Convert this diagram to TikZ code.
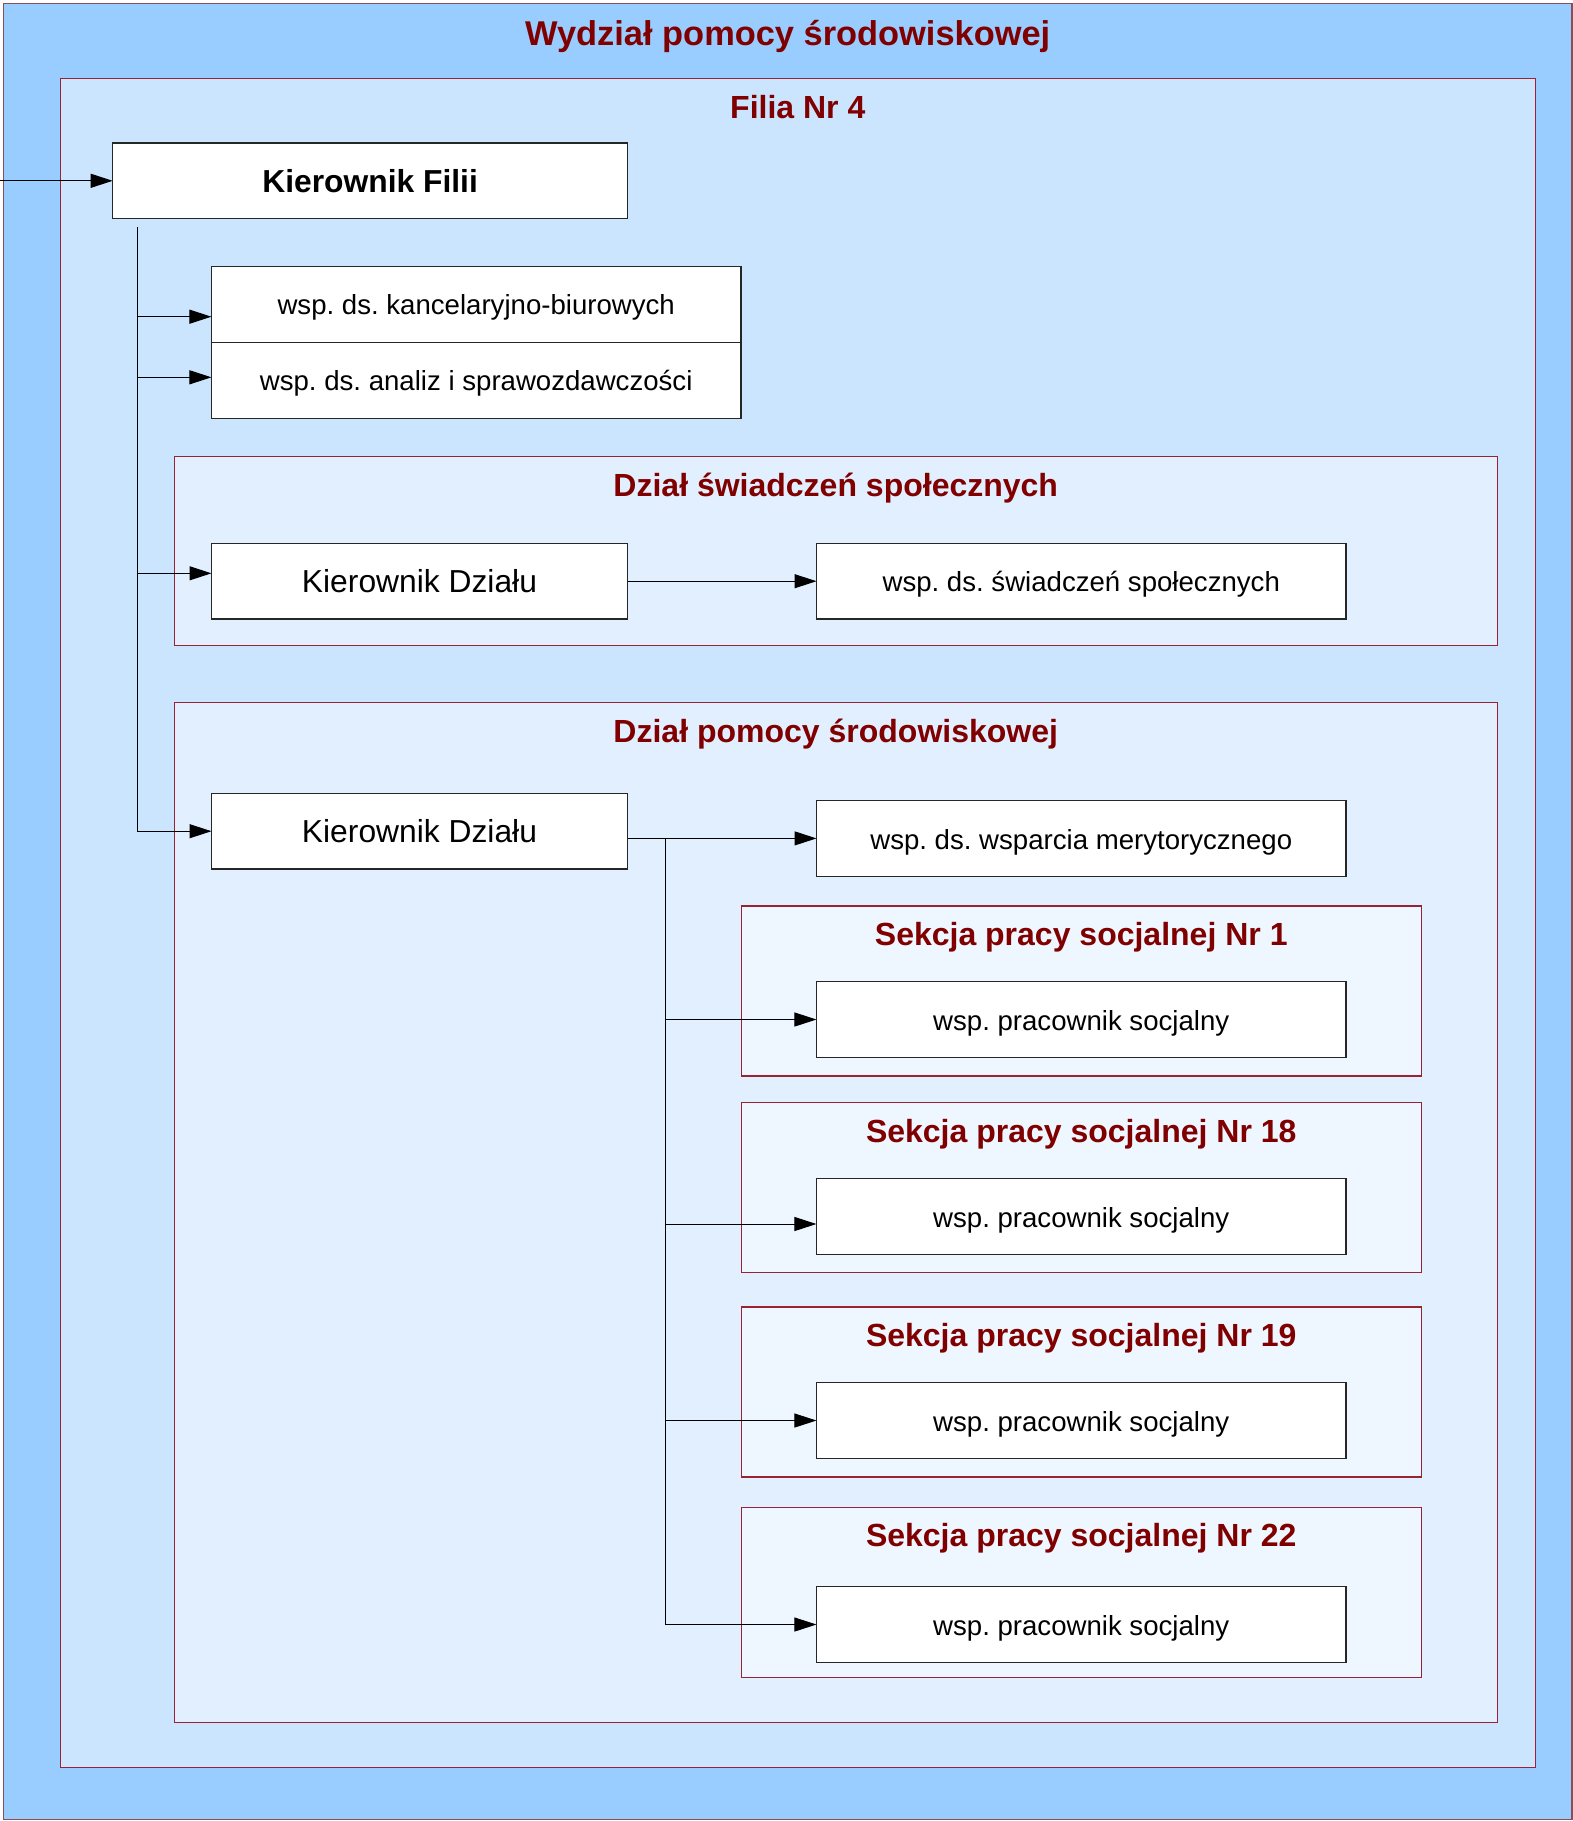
\documentclass[tikz,border=0pt]{standalone}
\usepackage{fontspec}
\setmainfont{Liberation Sans}
\usetikzlibrary{arrows.meta,positioning}
\frenchspacing

\definecolor{wydzial}{HTML}{99CCFF}
\definecolor{filia}{HTML}{CCE5FF}
\definecolor{dzial}{HTML}{E1EFFF}
\definecolor{sekcja}{HTML}{EEF6FF}
\definecolor{ramka}{HTML}{992233}
\definecolor{tytul}{HTML}{800000}

\begin{document}
\begin{tikzpicture}[x=1pt, y=1pt,
  frame/.style={draw=ramka, line width=0.6pt, inner sep=0pt, outer sep=0pt},
  ttl/.style={anchor=base, text=tytul, inner sep=0pt, font=\fontsize{16}{19}\selectfont\bfseries},
  box/.style={draw=black!85, fill=white, line width=0.6pt, inner sep=0pt, outer sep=0pt,
    minimum height=37.75pt, font=\fontsize{13.8}{16}\selectfont},
  wide/.style={box, minimum width=264.75pt, text height=10.7pt, text depth=0pt},
  head/.style={box, minimum width=208pt, font=\fontsize{15.9}{19}\selectfont},
  arr/.style={-{Triangle[length=11pt,width=7pt]}, line width=0.5pt}
]
\useasboundingbox (0,0) rectangle (786.5,-910.5);

% ramki
\node[frame, fill=wydzial, draw=ramka!55!gray, minimum width=784.25pt, minimum height=908pt] (wydz) at (393.875,-455.75) {};
\node[ttl, font=\fontsize{17.2}{20}\selectfont\bfseries] (wydzT) at ([yshift=-20.75pt]wydz.north) {Wydział pomocy środowiskowej};
\node[frame, fill=filia, minimum width=737.5pt, minimum height=844.5pt] (filia) at (398.9,-461.6) {};
\node[ttl] (filiaT) at ([yshift=-19.8pt]filia.north) {Filia Nr 4};
\node[frame, fill=dzial, minimum width=661.55pt, minimum height=94.4pt] (dsw) at (417.875,-275.55) {};
\node[ttl] (dswT) at ([yshift=-19.75pt]dsw.north) {Dział świadczeń społecznych};
\node[frame, fill=dzial, minimum width=661.55pt, minimum height=509.95pt] (dps) at (417.875,-606.375) {};
\node[ttl] (dpsT) at ([yshift=-19.75pt]dps.north) {Dział pomocy środowiskowej};

\node[frame, fill=sekcja, minimum width=340.05pt, minimum height=85pt] (s1) at (540.625,-495.5) {};
\node[ttl] (s1T) at ([yshift=-19.75pt]s1.north) {Sekcja pracy socjalnej Nr 1};
\node[frame, fill=sekcja, minimum width=340.05pt, minimum height=85pt] (s18) at (540.625,-593.85) {};
\node[ttl] (s18T) at ([yshift=-19.75pt]s18.north) {Sekcja pracy socjalnej Nr 18};
\node[frame, fill=sekcja, minimum width=340.05pt, minimum height=85pt] (s19) at (540.625,-696) {};
\node[ttl] (s19T) at ([yshift=-19.75pt]s19.north) {Sekcja pracy socjalnej Nr 19};
\node[frame, fill=sekcja, minimum width=340.05pt, minimum height=85pt] (s22) at (540.625,-796.15) {};
\node[ttl] (s22T) at ([yshift=-19.75pt]s22.north) {Sekcja pracy socjalnej Nr 22};

% stanowiska
\node[box, minimum width=257.4pt, font=\fontsize{15.9}{19}\selectfont\bfseries] (kf) at (185.05,-90.4) {Kierownik Filii};
\node[wide, minimum height=38pt] (kanc) at (238.1,-152.1) {wsp. ds. kancelaryjno-biurowych};
\node[wide, minimum height=38pt, below=0pt of kanc] (anal) {wsp. ds. analiz i sprawozdawczości};
\node[head] (kd1) at (209.75,-290.6) {Kierownik Działu};
\node[wide, right=94.5pt of kd1] (swiad) {wsp. ds. świadczeń społecznych};
\node[head] (kd2) at (209.75,-415.6) {Kierownik Działu};
\node[wide, right=94.5pt of kd2, yshift=-3.6pt] (wspar) {wsp. ds. wsparcia merytorycznego};
\node[wide] (ps1) at (540.6,-509.75) {wsp. pracownik socjalny};
\node[wide] (ps18) at (540.6,-608.2) {wsp. pracownik socjalny};
\node[wide] (ps19) at (540.6,-710.25) {wsp. pracownik socjalny};
\node[wide] (ps22) at (540.6,-812.25) {wsp. pracownik socjalny};

% polaczenia
\coordinate (wej) at (0,-90.4);
\draw[arr] (wej) -- (kf.west);
\coordinate (pion) at ([xshift=12.15pt,yshift=-4.15pt]kf.south west);
\coordinate (kancW) at ([yshift=-6.25pt]kanc.west);
\coordinate (analW) at ([yshift=1.45pt]anal.west);
\coordinate (kd1W) at ([yshift=3.95pt]kd1.west);
\draw[arr] (pion) |- (kd2.west);
\draw[arr] (pion |- kancW) -- (kancW);
\draw[arr] (pion |- analW) -- (analW);
\draw[arr] (pion |- kd1W) -- (kd1W);
\draw[arr] (kd1) -- (swiad);

\coordinate (pion2) at ([xshift=19.1pt]kd2.east |- wspar.west);
\coordinate (ps18W) at ([yshift=-3.8pt]ps18.west);
\draw[arr] (kd2.east |- wspar.west) -- (wspar.west);
\draw[arr] (pion2) |- (ps22.west);
\draw[arr] (pion2 |- ps1.west) -- (ps1.west);
\draw[arr] (pion2 |- ps18W) -- (ps18W);
\draw[arr] (pion2 |- ps19.west) -- (ps19.west);
\end{tikzpicture}
\end{document}
